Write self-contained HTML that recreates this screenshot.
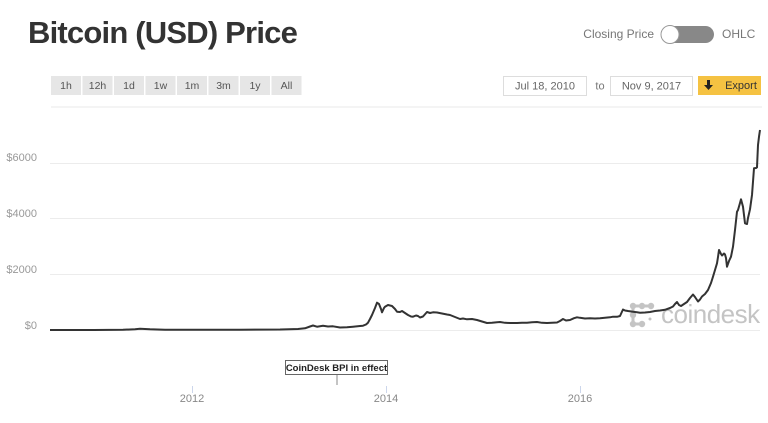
<!DOCTYPE html>
<html><head><meta charset="utf-8"><style>
html,body{margin:0;padding:0;background:#fff;}
body{width:768px;height:418px;overflow:hidden;font-family:"Liberation Sans",sans-serif;}
</style></head><body>
<svg width="768" height="418" viewBox="0 0 768 418" xmlns="http://www.w3.org/2000/svg" font-family="Liberation Sans, sans-serif">
<rect width="768" height="418" fill="#fff"/>
<!-- title -->
<text x="28" y="43" font-size="31" font-weight="bold" fill="#333" letter-spacing="-0.8">Bitcoin (USD) Price</text>
<!-- toggle -->
<text x="654" y="38" font-size="12" fill="#777" text-anchor="end">Closing Price</text>
<rect x="662" y="26" width="52" height="17" rx="8.5" fill="#888"/>
<circle cx="670" cy="34.5" r="9" fill="#fff" stroke="#999" stroke-width="1"/>
<text x="722" y="38" font-size="12" fill="#777">OHLC</text>
<!-- range buttons -->
<g font-size="10.5" fill="#555" text-anchor="middle">
<rect x="51" y="76" width="30" height="19" fill="#e6e6e6"/><text x="66" y="89">1h</text>
<rect x="82.5" y="76" width="30" height="19" fill="#e6e6e6"/><text x="97.5" y="89">12h</text>
<rect x="114" y="76" width="30" height="19" fill="#e6e6e6"/><text x="129" y="89">1d</text>
<rect x="145.5" y="76" width="30" height="19" fill="#e6e6e6"/><text x="160.5" y="89">1w</text>
<rect x="177" y="76" width="30" height="19" fill="#e6e6e6"/><text x="192" y="89">1m</text>
<rect x="208.5" y="76" width="30" height="19" fill="#e6e6e6"/><text x="223.5" y="89">3m</text>
<rect x="240" y="76" width="30" height="19" fill="#e6e6e6"/><text x="255" y="89">1y</text>
<rect x="271.5" y="76" width="30" height="19" fill="#e6e6e6"/><text x="286.5" y="89">All</text>
</g>
<!-- date inputs -->
<rect x="503.5" y="76.5" width="83" height="19" fill="#fff" stroke="#ddd"/>
<text x="545" y="89.5" font-size="11" fill="#666" text-anchor="middle">Jul 18, 2010</text>
<text x="600" y="89.5" font-size="11" fill="#777" text-anchor="middle">to</text>
<rect x="610.5" y="76.5" width="82" height="19" fill="#fff" stroke="#ddd"/>
<text x="651.5" y="89.5" font-size="11" fill="#666" text-anchor="middle">Nov 9, 2017</text>
<rect x="698" y="76" width="63" height="19" fill="#f5c242"/>
<path d="M707 80 h3 v5 h3 l-4.5 5 l-4.5 -5 h3 z" fill="#222"/>
<text x="741" y="89" font-size="11" fill="#333" text-anchor="middle">Export</text>
<!-- separator -->
<line x1="51" y1="107" x2="762" y2="107" stroke="#e8e8e8" stroke-width="1"/>
<!-- gridlines -->
<g stroke="#ececec" stroke-width="1">
<line x1="50" y1="163.5" x2="760" y2="163.5"/>
<line x1="50" y1="218.5" x2="760" y2="218.5"/>
<line x1="50" y1="274.5" x2="760" y2="274.5"/>
<line x1="50" y1="330.5" x2="760" y2="330.5"/>
</g>
<g font-size="11" fill="#999" text-anchor="end">
<text x="37" y="161">$6000</text>
<text x="37" y="217">$4000</text>
<text x="37" y="273">$2000</text>
<text x="37" y="329">$0</text>
</g>
<!-- watermark -->
<g fill="#c4c4c4" stroke="#c4c4c4">
<line x1="633" y1="306" x2="651" y2="306" stroke-width="3"/>
<circle cx="633" cy="306" r="3.2" stroke="none"/>
<circle cx="642" cy="306" r="3.2" stroke="none"/>
<circle cx="651" cy="306" r="3.2" stroke="none"/>
<line x1="633" y1="306" x2="633" y2="324" stroke-width="3"/>
<circle cx="633" cy="315" r="3.2" stroke="none"/>
<circle cx="633" cy="324" r="3.2" stroke="none"/>
<circle cx="642" cy="324" r="3.2" stroke="none"/>
<line x1="633" y1="324" x2="642" y2="324" stroke-width="3"/>
<circle cx="650" cy="319" r="1.5" stroke="none"/>
</g>
<text x="661" y="323" font-size="26" fill="#c4c4c4" letter-spacing="-0.5">coindesk</text>
<!-- price line -->
<polyline fill="none" stroke="#333" stroke-width="2" stroke-linejoin="round" points="50,330 94,330 123,329.8 135,329.2 140,328.8 150,329.3 165,329.7 191,329.8 240,329.7 280,329.5 298,329 305,328.3 310,326.5 313,325.5 317,326.7 323,325.8 328,326.5 333,326.3 340,327.5 347,327.2 353,326.7 360,326 363,325.7 366,324.5 368,322.7 370,319 372,315 375,308 377,302.7 379,304 381,309 382,312.3 384,308 385,306.7 388,305 390,305.5 392,306 395,309 397,311.7 400,312 402,311 405,313 408,315 411,316.5 413,316.7 416,315.5 418,316 420,317.5 423,316.5 427,312 430,313 433,312.3 437,312.5 442,313.5 447,314.5 450,315 455,317 460,319 463,318.5 467,319.3 472,319 477,320 482,321.5 487,323 492,322.8 497,322.2 500,322 505,322.8 510,323 517,323 522,322.8 527,322.7 532,322.3 537,322 542,322.8 547,323 552,322.8 557,322.5 560,321 563,319 566,320.5 570,320 574,318.2 577,317.3 580,317.8 585,318.5 590,318.3 595,318.5 600,318.3 605,317.8 610,317.3 613,316.7 617,316.8 620,316 623,309.5 625,310.5 628,311 633,311.7 637,312.3 640,312.7 645,312.5 650,312 655,311 660,310.5 665,309.8 670,308 673,306.5 675,304 677,302 679,305 681,306 684,304 687,302 690,298 693,294.5 695,297 698,301.5 700,299.5 702,296.5 705,294 708,290 711,283 713,276.7 715,270 717,263.3 718,257 719,250 721,254 722,255.5 724,253.5 725,254.5 726,258 727,266.7 729,261 731,256.7 733,246.7 735,230 737,211.7 738,210 740,203 741,199.3 742,203 743,206.7 745,223.3 747,224 748,218 750,209.3 752,195 753,181.7 754,168.3 756,168 757,167.3 758,145 759,136.7 760,130"/>
<!-- BPI flag -->
<line x1="337" y1="375" x2="337" y2="385" stroke="#888" stroke-width="1"/>
<rect x="285.5" y="360.5" width="102" height="14" fill="#fff" stroke="#666" stroke-width="1"/>
<text x="336.5" y="371" font-size="9.5" font-weight="bold" fill="#222" text-anchor="middle">CoinDesk BPI in effect</text>
<!-- x axis ticks -->
<g stroke="#ccd6eb" stroke-width="1">
<line x1="192.5" y1="386" x2="192.5" y2="393"/>
<line x1="386.5" y1="386" x2="386.5" y2="393"/>
<line x1="580.5" y1="386" x2="580.5" y2="393"/>
</g>
<g font-size="11" fill="#888" text-anchor="middle">
<text x="192" y="402">2012</text>
<text x="386" y="402">2014</text>
<text x="580" y="402">2016</text>
</g>
</svg>
</body></html>
